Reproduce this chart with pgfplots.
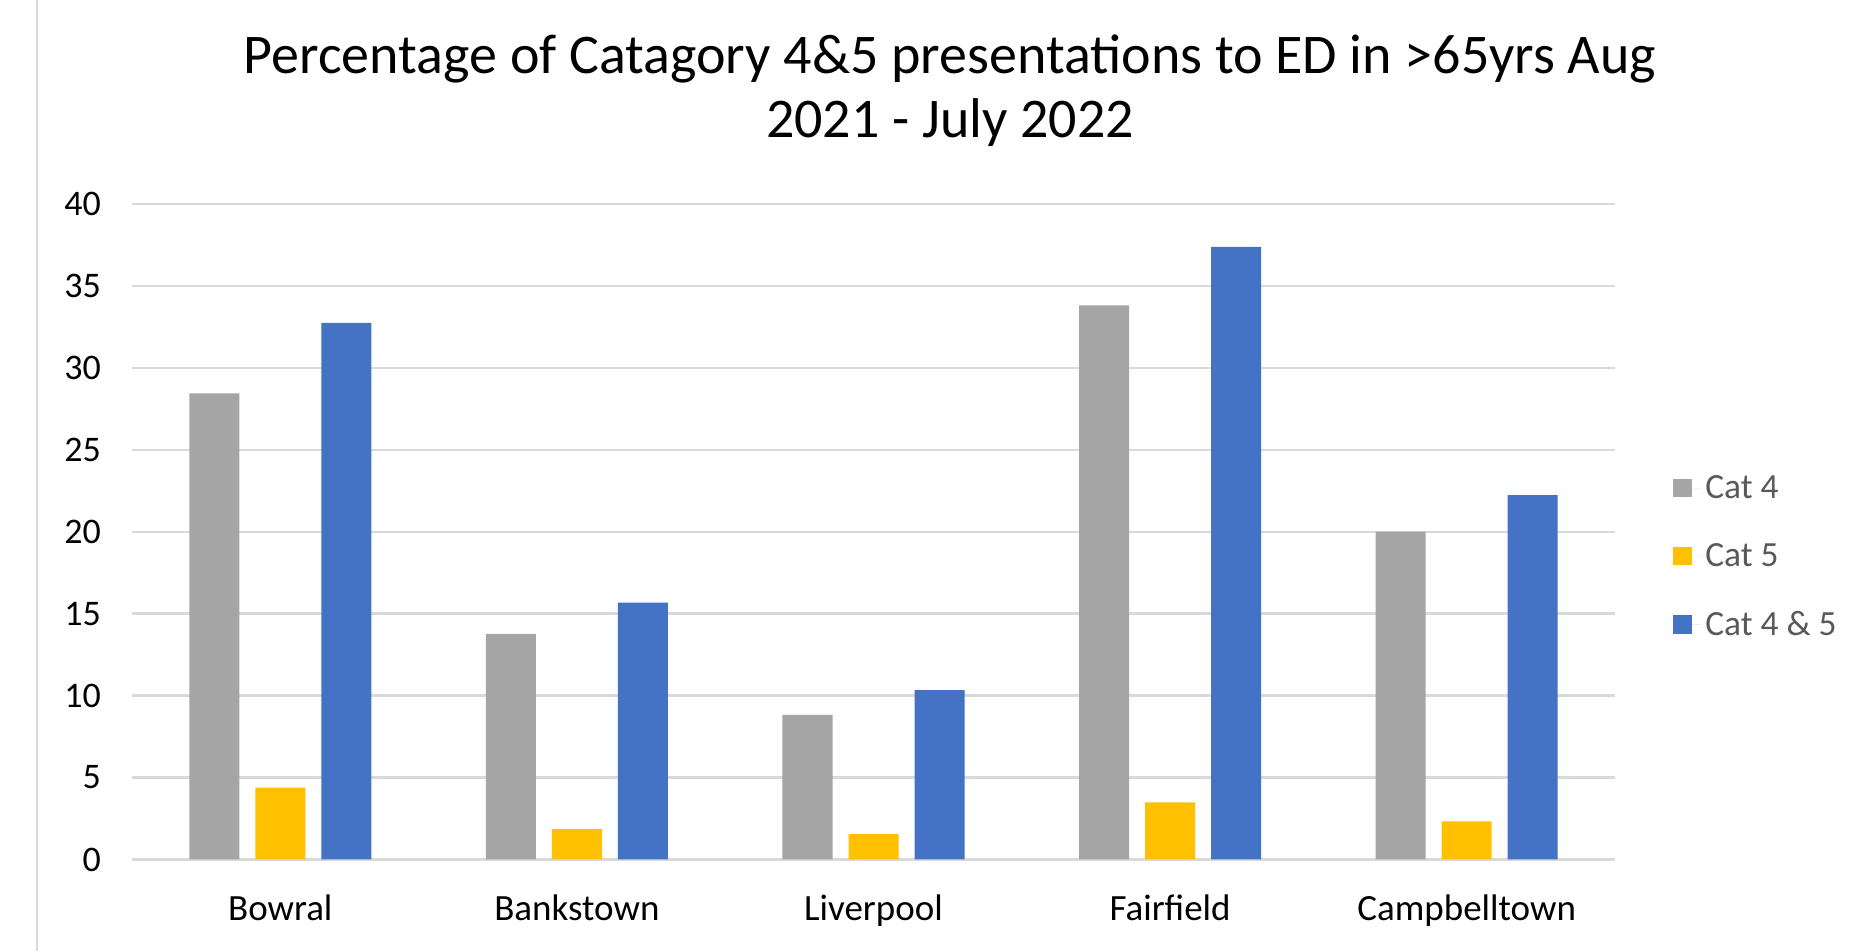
\documentclass[border=0pt]{standalone}
\usepackage{fontspec}
\setmainfont{Carlito}
\usepackage{pgfplots}
\pgfplotsset{compat=1.18}
\definecolor{cat4}{HTML}{A5A5A5}
\definecolor{cat5}{HTML}{FFC000}
\definecolor{cat45}{HTML}{4472C4}
\definecolor{gridc}{HTML}{D9D9D9}
\definecolor{legtext}{HTML}{595959}
\begin{document}
\begin{tikzpicture}
\useasboundingbox (-66pt,-45.75pt) rectangle (868.5pt,429.75pt);
\draw[gridc, line width=1.2pt] (-47.5pt,-45.75pt) -- (-47.5pt,429.75pt);
\begin{axis}[
  at={(0,0)}, anchor=south west,
  scale only axis, width=741.5pt, height=327.75pt,
  ybar=8pt, bar width=25pt,
  xmin=-0.5, xmax=4.5, ymin=0, ymax=40,
  xtick={0,1,2,3,4},
  xticklabels={Bowral,Bankstown,Liverpool,Fairfield,Campbelltown},
  ytick={0,5,...,40},
  ymajorgrids, grid style={gridc, line width=1.2pt},
  axis line style={draw=none},
  major tick length=0pt,
  /pgf/number format/assume math mode=true,
  yticklabel style={font=\fontsize{18}{20}\selectfont, xshift=-12pt},
  xticklabel style={font=\fontsize{18.5}{21}\selectfont, yshift=-14pt},
  legend style={at={(1.035,0.462)}, anchor=west, draw=none, fill=none,
    font=\fontsize{17.7}{20}\selectfont, text=legtext, row sep=17pt},
  legend cell align=left,
  legend image code/.code={\fill[#1] (0pt,-4.6pt) rectangle (9.2pt,4.6pt);
    \path (0pt,0pt) -- (14pt,0pt);},
]
\addplot[fill=cat4, draw=none] coordinates {(0,28.45) (1,13.76) (2,8.83) (3,33.81) (4,20.0)};
\addlegendentry{Cat 4}
\addplot[fill=cat5, draw=none] coordinates {(0,4.39) (1,1.85) (2,1.55) (3,3.49) (4,2.32)};
\addlegendentry{Cat 5}
\addplot[fill=cat45, draw=none] coordinates {(0,32.75) (1,15.67) (2,10.33) (3,37.38) (4,22.23)};
\addlegendentry{Cat 4 \& 5}
\end{axis}
\node[align=center, font=\fontsize{28}{32.2}\selectfont] at (409pt,384.5pt)
  {Percentage of Catagory 4\&5 presentations to ED in >65yrs Aug\\2021 - July 2022};
\end{tikzpicture}
\end{document}
